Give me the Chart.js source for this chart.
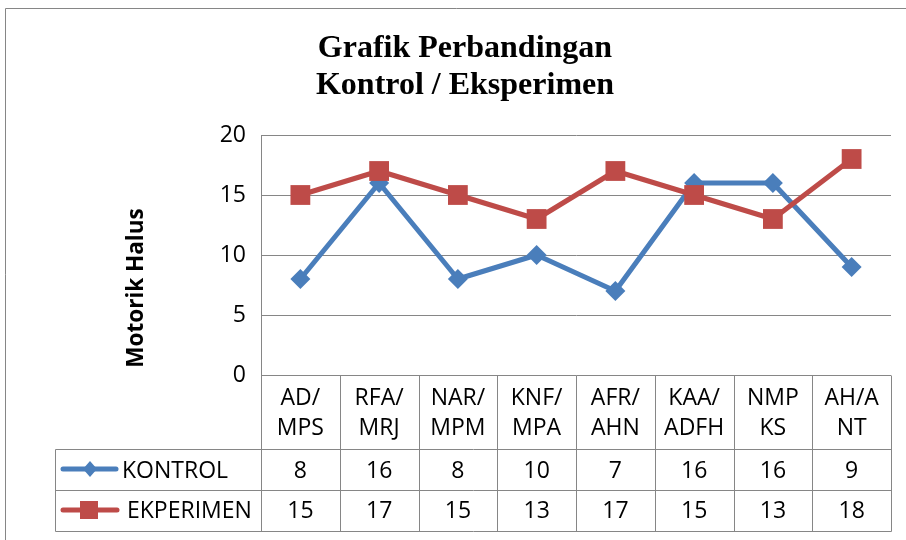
<!DOCTYPE html>
<html><head><meta charset="utf-8">
<script src="https://cdn.jsdelivr.net/npm/chart.js@4/dist/chart.umd.min.js"></script>
<style>html,body{margin:0;padding:0;background:#fff}canvas{display:block}</style>
</head><body>
<canvas id="c" width="906" height="540"></canvas>
<script>
const categories = [["AD/","MPS"],["RFA/","MRJ"],["NAR/","MPM"],["KNF/","MPA"],["AFR/","AHN"],["KAA/","ADFH"],["NMP","KS"],["AH/A","NT"]];
const kontrol = [8,16,8,10,7,16,16,9];
const eksperimen = [15,17,15,13,17,15,13,18];
const seriesNames = ["KONTROL","EKPERIMEN"];
const yMin = 0, yMax = 20, yStep = 5;
const titleLines = ["Grafik Perbandingan","Kontrol / Eksperimen"];
const yTitle = "Motorik Halus";

const BLUE = '#4A7EBB', RED = '#BE4B48', GRID = '#868686';
const SANS = '"Open Sans", "Noto Sans", sans-serif';

const tablePlugin = {
  id: 'tablePlugin',
  afterDraw(chart) {
    const ctx = chart.ctx, xs = chart.scales.x, ca = chart.chartArea;
    const n = categories.length;
    const b = [];
    for (let i = 0; i <= n; i++) {
      if (i === 0) b.push(ca.left);
      else if (i === n) b.push(ca.right);
      else b.push((xs.getPixelForValue(i - 1) + xs.getPixelForValue(i)) / 2);
    }
    const yHead = ca.bottom, yR1 = yHead + 74, yR2 = yR1 + 41, yR3 = yR2 + 41, xL = 55;
    const px = v => Math.round(v) + 0.5;
    ctx.save();
    ctx.strokeStyle = GRID; ctx.lineWidth = 1;
    ctx.beginPath();
    b.forEach(x => { ctx.moveTo(px(x), px(yHead)); ctx.lineTo(px(x), px(yR3)); });
    ctx.moveTo(px(xL), px(yR1)); ctx.lineTo(px(xL), px(yR3));
    [yR1, yR2, yR3].forEach(y => { ctx.moveTo(px(xL), px(y)); ctx.lineTo(px(ca.right), px(y)); });
    ctx.stroke();

    ctx.fillStyle = '#000';
    ctx.font = '23px ' + SANS;
    ctx.textAlign = 'center'; ctx.textBaseline = 'alphabetic';
    for (let i = 0; i < n; i++) {
      const cx = xs.getPixelForValue(i);
      ctx.fillText(categories[i][0], cx, yHead + 30);
      ctx.fillText(categories[i][1], cx, yHead + 60);
      ctx.fillText(String(kontrol[i]), cx, yR1 + 29);
      ctx.fillText(String(eksperimen[i]), cx, yR2 + 28);
    }
    // legend keys
    const ly1 = yR1 + 20, ly2 = yR2 + 20;
    ctx.lineCap = 'round';
    ctx.lineWidth = 5;
    ctx.strokeStyle = BLUE;
    ctx.beginPath(); ctx.moveTo(63, ly1); ctx.lineTo(116, ly1); ctx.stroke();
    ctx.fillStyle = BLUE;
    ctx.beginPath(); ctx.moveTo(90, ly1 - 8); ctx.lineTo(97, ly1); ctx.lineTo(90, ly1 + 8); ctx.lineTo(83, ly1); ctx.closePath(); ctx.fill();
    ctx.strokeStyle = RED;
    ctx.beginPath(); ctx.moveTo(63, ly2); ctx.lineTo(117, ly2); ctx.stroke();
    ctx.fillStyle = RED;
    ctx.fillRect(80, ly2 - 9, 18, 18);
    ctx.fillStyle = '#000';
    ctx.textAlign = 'left';
    ctx.fillText(seriesNames[0], 122, yR1 + 29);
    ctx.fillText(seriesNames[1], 127, yR2 + 28);

    // y axis title
    ctx.save();
    ctx.translate(137, 288);
    ctx.rotate(-Math.PI / 2);
    ctx.font = 'bold 22.5px ' + SANS;
    ctx.textAlign = 'center'; ctx.textBaseline = 'middle';
    ctx.fillText(yTitle, 0, 0);
    ctx.restore();

    // outer frame
    ctx.strokeStyle = GRID; ctx.lineWidth = 1;
    ctx.beginPath();
    ctx.moveTo(5.5, 545); ctx.lineTo(5.5, 8.5); ctx.lineTo(910, 8.5);
    ctx.stroke();
    ctx.restore();
  }
};

new Chart(document.getElementById('c'), {
  type: 'line',
  data: {
    labels: categories,
    datasets: [
      { label: seriesNames[0], data: kontrol, borderColor: BLUE, backgroundColor: BLUE,
        borderWidth: 5, pointStyle: 'rectRot', pointRadius: 10, pointBorderWidth: 0,
        borderJoinStyle: 'round', tension: 0, order: 2 },
      { label: seriesNames[1], data: eksperimen, borderColor: RED, backgroundColor: RED,
        borderWidth: 5, pointStyle: 'rect', pointRadius: 14, pointBorderWidth: 0,
        borderJoinStyle: 'round', tension: 0, order: 1 }
    ]
  },
  options: {
    responsive: false, animation: false, devicePixelRatio: 1,
    layout: { padding: { left: 39, right: 15, top: 12, bottom: 165 } },
    plugins: {
      legend: { display: false }, tooltip: { enabled: false },
      title: { display: true, text: titleLines, color: '#000',
        font: { family: '"Liberation Serif", "Times New Roman", serif', size: 32, weight: 'bold', lineHeight: 37 / 32 },
        padding: { top: 18, bottom: 31 } }
    },
    scales: {
      x: { type: 'category', offset: true, display: false },
      y: { min: yMin, max: yMax,
        ticks: { stepSize: yStep, color: '#000', font: { family: SANS, size: 23 }, padding: 15 },
        grid: { color: GRID, lineWidth: 1, drawTicks: false },
        border: { display: true, color: GRID, width: 1 },
        afterFit: s => { s.width = 261 - 39; } }
    }
  },
  plugins: [tablePlugin]
});
</script>
</body></html>
